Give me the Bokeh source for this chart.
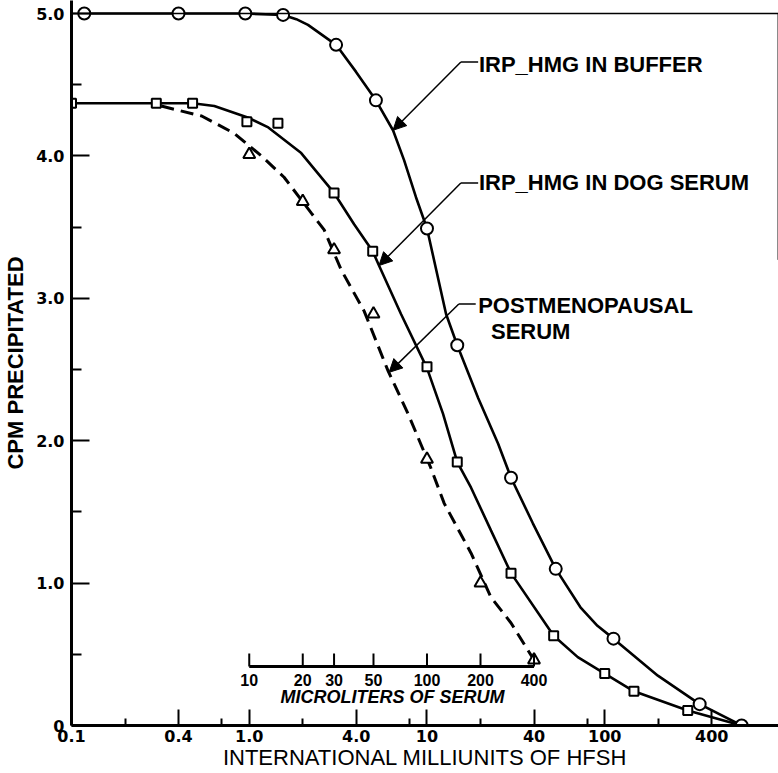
from bokeh.plotting import figure
from bokeh.models import FixedTicker, Range1d, LogScale, Span, Arrow, NormalHead, Label
from bokeh.embed import file_html
from bokeh.resources import INLINE
from bokeh.core.properties import value

# ---------------- data ----------------
# IRP-HMG in buffer (open circles), x in international milliunits of HFSH
buffer_x = [0.118, 0.4, 0.95, 1.55, 3.08, 5.16, 10.0, 14.8, 29.7, 53.0, 112.0, 342.0, 589.0]
buffer_y = [5.0, 5.0, 5.0, 4.99, 4.78, 4.39, 3.49, 2.67, 1.74, 1.10, 0.61, 0.15, 0.0]
buffer_curve_x = [0.118, 0.4, 0.95, 1.55, 1.84, 2.14, 3.08, 3.99, 5.16, 6.44, 7.43, 8.67, 10.0,
                  12.8, 14.8, 19.4, 25.1, 29.7, 39.4, 53.0, 73.0, 91.0, 112.0, 199.0, 342.0, 589.0]
buffer_curve_y = [5.0, 5.0, 5.0, 4.99, 4.96, 4.92, 4.78, 4.59, 4.39, 4.18, 3.97, 3.71, 3.49,
                  2.89, 2.67, 2.30, 1.98, 1.74, 1.42, 1.10, 0.83, 0.70, 0.61, 0.35, 0.15, 0.0]

# IRP-HMG in dog serum (open squares)
dog_x = [0.1, 0.3, 0.48, 0.97, 1.45, 3.0, 4.95, 10.0, 14.8, 29.7, 51.6, 100.0, 146.0, 293.0]
dog_y = [4.37, 4.37, 4.37, 4.24, 4.23, 3.74, 3.33, 2.52, 1.85, 1.07, 0.63, 0.365, 0.24, 0.105]
dog_curve_x = [0.1, 0.3, 0.48, 0.636, 0.98, 1.28, 1.96, 3.0, 3.89, 4.95, 5.37, 7.14, 10.0, 12.3,
               14.8, 17.7, 22.9, 29.7, 51.6, 70.5, 100.0, 146.0, 293.0, 589.0]
dog_curve_y = [4.37, 4.37, 4.37, 4.35, 4.27, 4.20, 4.02, 3.74, 3.52, 3.33, 3.23, 2.89, 2.51, 2.19,
               1.85, 1.67, 1.37, 1.07, 0.63, 0.48, 0.365, 0.24, 0.105, 0.0]

# Postmenopausal serum (open triangles), x in microliters of serum
post_ul = [10, 20, 30, 50, 100, 200, 400]
post_y = [4.01, 3.68, 3.34, 2.89, 1.87, 1.00, 0.46]
post_curve_ul = [3.2, 5.4, 8.2, 11.7, 15.7, 22.3, 26.4, 32.9, 44.3, 60.4, 78.2, 105.0, 125.0,
                 177.0, 229.0, 297.0, 400.0]
post_curve_y = [4.35, 4.28, 4.16, 4.00, 3.85, 3.60, 3.48, 3.20, 2.91, 2.49, 2.19, 1.81, 1.56,
                1.21, 0.90, 0.72, 0.46]

# axes
x_major = [0.1, 0.4, 1, 4, 10, 40, 100, 400, 1000]
x_major_labels = ["0.1", "0.4", "1.0", "4.0", "10", "40", "100", "400", "1000"]
x_minor = [0.2, 0.7, 2, 8, 20, 80, 200]
y_major = [0, 1, 2, 3, 4, 5]
y_major_labels = ["0", "1.0", "2.0", "3.0", "4.0", "5.0"]
y_minor = [0.5, 1.5, 2.5, 3.5, 4.5]
ul_ticks = [10, 20, 30, 50, 100, 200, 400]
ul_labels = ["10", "20", "30", "50", "100", "200", "400"]

# annotations
ann_text = ["IRP_HMG IN BUFFER", "IRP_HMG IN DOG SERUM", "POSTMENOPAUSAL", "SERUM"]
ann_text_x = [19.6, 19.6, 19.4, 22.9]
ann_text_y = [4.645, 3.81, 2.95, 2.77]
arrow_corner_x = [15.5, 15.5, 15.1]
arrow_corner_y = [4.66, 3.81, 2.96]
arrow_tip_x = [6.44, 5.37, 6.12]
arrow_tip_y = [4.18, 3.23, 2.48]
leader_end_x = [19.4, 19.4, 18.8]

X_END = 949.6          # right edge of the frame
Y_END = 5.0913         # top edge of the frame
EDGE_X = 937.5         # faint right border of the original sheet
INK = "black"

p = figure(width=778, height=773, x_axis_type="log",
           x_range=Range1d(0.1, X_END), y_range=Range1d(0, Y_END),
           output_backend="svg", toolbar_location=None,
           min_border_left=70, min_border_right=0, min_border_top=0, min_border_bottom=48)
p.outline_line_color = None
p.xgrid.visible = False
p.ygrid.visible = False
p.background_fill_color = "white"
p.border_fill_color = "white"

p.extra_x_ranges = {"ul": Range1d(1, X_END * 10)}
p.extra_x_scales = {"ul": LogScale()}

xa = p.xaxis[0]
xa.ticker = FixedTicker(ticks=x_major, minor_ticks=x_minor)
xa.major_label_overrides = {t: l for t, l in zip(x_major, x_major_labels)}
xa.axis_label = "INTERNATIONAL MILLIUNITS OF HFSH"
xa.axis_label_text_font = "Liberation Sans"
xa.axis_label_text_font_style = "normal"
xa.axis_label_text_font_size = "22px"
xa.axis_label_text_color = INK
xa.axis_label_standoff = 0
xa.major_label_text_font = "DejaVu Sans"
xa.major_label_text_font_style = "bold"
xa.major_label_text_font_size = "16px"
xa.major_label_text_color = INK
xa.major_label_standoff = 4
xa.axis_line_width = 3
xa.axis_line_color = INK
xa.major_tick_in = 16
xa.major_tick_out = 0
xa.major_tick_line_width = 2
xa.minor_tick_in = 7
xa.minor_tick_out = 0
xa.minor_tick_line_width = 2

ya = p.yaxis[0]
ya.ticker = FixedTicker(ticks=y_major, minor_ticks=y_minor)
ya.major_label_overrides = {t: l for t, l in zip(y_major, y_major_labels)}
ya.axis_label = "CPM PRECIPITATED"
ya.axis_label_text_font = "Liberation Sans"
ya.axis_label_text_font_style = "bold"
ya.axis_label_text_font_size = "22px"
ya.axis_label_text_color = INK
ya.axis_label_standoff = 5
ya.major_label_text_font = "DejaVu Sans"
ya.major_label_text_font_style = "bold"
ya.major_label_text_font_size = "16px"
ya.major_label_text_color = INK
ya.major_label_standoff = 7
ya.axis_line_width = 3
ya.axis_line_color = INK
ya.major_tick_in = 18
ya.major_tick_out = 0
ya.major_tick_line_width = 2
ya.minor_tick_in = 10
ya.minor_tick_out = 0
ya.minor_tick_line_width = 2

# last tick label (its tick sits just past the frame edge); kept inside the picture
p.add_layout(Label(x=x_major[-1], y=0, text=x_major_labels[-1], x_offset=-5, y_offset=-4,
                   text_align="right", text_baseline="top", text_font="DejaVu Sans",
                   text_font_style="bold", text_font_size="16px", text_color=INK))

# border lines of the original frame
p.add_layout(Span(location=5.0, dimension="width", line_color=INK, line_width=1.5))
p.segment(x0=[EDGE_X], y0=[5.0], x1=[EDGE_X], y1=[3.27], line_color="#8a8a8a", line_width=1)

# curves
p.line(buffer_curve_x, buffer_curve_y, line_color=INK, line_width=2.6)
p.line(dog_curve_x, dog_curve_y, line_color=INK, line_width=2.6)
p.line(post_curve_ul, post_curve_y, x_range_name="ul", line_color=INK, line_width=3,
       line_dash="13 7")

# markers
p.scatter(buffer_x, buffer_y, marker="circle", size=12, fill_color="white",
          line_color=INK, line_width=2)
p.scatter(dog_x, dog_y, marker="square", size=9, fill_color="white",
          line_color=INK, line_width=2)
p.scatter(post_ul, post_y, x_range_name="ul", marker="triangle", size=12,
          fill_color="white", line_color=INK, line_width=2)

# inset microliter axis
p.segment(x0=[ul_ticks[0]], y0=[0.414], x1=[ul_ticks[-1]], y1=[0.414], x_range_name="ul",
          line_color=INK, line_width=3)
p.segment(x0=ul_ticks, y0=[0.414] * len(ul_ticks), x1=ul_ticks, y1=[0.506] * len(ul_ticks),
          x_range_name="ul", line_color=INK, line_width=2)
p.text(x=ul_ticks, y=[0.322] * len(ul_ticks), text=ul_labels, x_range_name="ul",
       text_font=value("Liberation Sans"), text_font_style="bold", text_font_size="16px",
       text_align="center", text_baseline="middle", text_color=INK)
p.text(x=[64.0], y=[0.197], text=["MICROLITERS OF SERUM"], x_range_name="ul",
       text_font=value("Liberation Sans"), text_font_style="bold italic", text_font_size="18px",
       text_align="center", text_baseline="middle", text_color=INK)

# annotation arrows and labels
p.segment(x0=arrow_corner_x, y0=arrow_corner_y, x1=leader_end_x, y1=arrow_corner_y,
          line_color=INK, line_width=1.5)
for cx, cy, tx, ty in zip(arrow_corner_x, arrow_corner_y, arrow_tip_x, arrow_tip_y):
    p.add_layout(Arrow(end=NormalHead(size=13, fill_color=INK, line_color=INK, line_width=1),
                       x_start=cx, y_start=cy, x_end=tx, y_end=ty,
                       line_color=INK, line_width=1.5))
p.text(x=ann_text_x, y=ann_text_y, text=ann_text, text_font=value("Liberation Sans"),
       text_font_style="bold", text_font_size="22px", text_align="left",
       text_baseline="middle", text_color=INK)

open("out.html", "w").write(file_html(p, INLINE))
